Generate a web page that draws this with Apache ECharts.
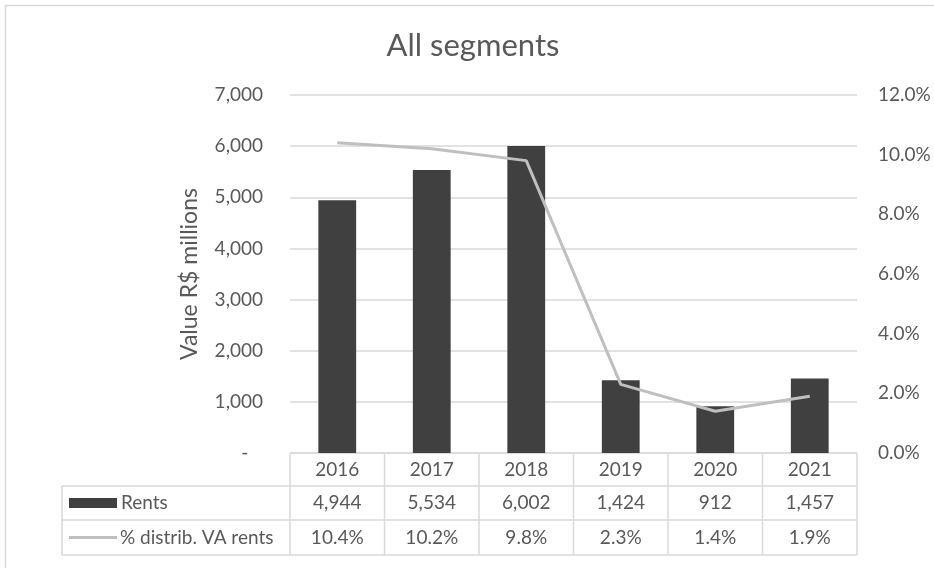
<!DOCTYPE html>
<html><head><meta charset="utf-8">
<script src="https://cdn.jsdelivr.net/npm/echarts@6/dist/echarts.min.js"></script>
<style>html,body{margin:0;padding:0;background:#fff}#c{width:934px;height:568px}</style>
</head><body><div id="c"></div>
<script>
var years = ['2016','2017','2018','2019','2020','2021'];
var rents = [4944, 5534, 6002, 1424, 912, 1457];
var pctVA = [10.4, 10.2, 9.8, 2.3, 1.4, 1.9];
var leftTicks = {min: 0, max: 7000, interval: 1000};
var rightTicks = {min: 0, max: 12, interval: 2};
var rentsName = 'Rents';
var pctName = '% distrib. VA rents';

var FONT = 'Lato';
var TXT = '#595959';
var GRIDC = '#D9D9D9';
var FS = 19;
var chart = echarts.init(document.getElementById('c'), null, {renderer:'canvas'});
function fmtNum(v){ return v.toLocaleString('en-US'); }
chart.setOption({
  animation: false,
  textStyle: {fontFamily: FONT},
  grid: {left: 290, right: 77, top: 95, bottom: 115},
  xAxis: {type: 'category', data: years, axisLine: {show: false}, axisTick: {show: false},
    axisLabel: {show: false}},
  yAxis: [{
    type: 'value', min: leftTicks.min, max: leftTicks.max, interval: leftTicks.interval,
    name: 'Value R$ millions', nameLocation: 'middle', nameGap: 89, nameRotate: 90,
    nameTextStyle: {fontFamily: FONT, fontSize: 23, color: TXT},
    axisLabel: {fontFamily: FONT, fontSize: FS, color: TXT, margin: 27,
      formatter: function(v){ return v === 0 ? '-   ' : fmtNum(v); }},
    splitLine: {lineStyle: {color: GRIDC, width: 1.5}},
    axisLine: {show: false}, axisTick: {show: false}
  },{
    type: 'value', min: rightTicks.min, max: rightTicks.max, interval: rightTicks.interval,
    position: 'right',
    axisLabel: {fontFamily: FONT, fontSize: FS, color: TXT, margin: 21,
      formatter: function(v){ return v.toFixed(1) + '%'; }},
    splitLine: {show: false}, axisLine: {show: false}, axisTick: {show: false}
  }],
  series: [{
    name: rentsName, type: 'bar', data: rents, barWidth: '40%',
    itemStyle: {color: '#404040'}
  },{
    name: pctName, type: 'line', yAxisIndex: 1, data: pctVA, symbol: 'none',
    lineStyle: {color: '#BFBFBF', width: 3}
  }]
});

// Build data table under the axis from the axis' own scale
var g = [];
var x0 = chart.convertToPixel({xAxisIndex: 0}, years[0]);
var x1 = chart.convertToPixel({xAxisIndex: 0}, years[1]);
var cw = x1 - x0;
var left = x0 - cw / 2;
var right = left + cw * years.length;
var yTop = chart.convertToPixel({yAxisIndex: 0}, 0);
var rowH = [33, 34, 35];
var r1 = yTop + rowH[0], r2 = r1 + rowH[1], r3 = r2 + rowH[2];
var tLeft = 62;
var lc = GRIDC;
function hline(xa, xb, y){ g.push({type:'line', shape:{x1:xa, y1:y, x2:xb, y2:y}, style:{stroke:lc, lineWidth:1.5}}); }
function vline(x, ya, yb){ g.push({type:'line', shape:{x1:x, y1:ya, x2:x, y2:yb}, style:{stroke:lc, lineWidth:1.5}}); }
hline(left, right, yTop);
hline(tLeft, right, r1);
hline(tLeft, right, r2);
hline(tLeft, right, r3);
vline(tLeft, r1, r3);
for (var i = 0; i <= years.length; i++) vline(left + cw * i, yTop, r3);
function txt(s, x, y, align, fs){ g.push({type:'text', x:x, y:y, style:{text:s, fill:TXT, font:(fs||FS) + 'px ' + FONT, textAlign:align||'center', textVerticalAlign:'middle'}}); }
for (var j = 0; j < years.length; j++) {
  var cx = chart.convertToPixel({xAxisIndex: 0}, years[j]);
  txt(years[j], cx, (yTop + r1) / 2);
  txt(fmtNum(rents[j]), cx, (r1 + r2) / 2);
  txt(pctVA[j].toFixed(1) + '%', cx, (r2 + r3) / 2);
}
// title
txt('All segments', 473, 46, 'center', 31);
// legend keys
g.push({type:'rect', shape:{x:69, y:(r1+r2)/2 - 5, width:48, height:10}, style:{fill:'#404040'}});
txt(rentsName, 121, (r1 + r2) / 2, 'left');
g.push({type:'line', shape:{x1:69, y1:(r2+r3)/2, x2:117, y2:(r2+r3)/2}, style:{stroke:'#BFBFBF', lineWidth:3}});
txt(pctName, 120, (r2 + r3) / 2, 'left');
// outer chart border
g.push({type:'rect', shape:{x:5.5, y:5.5, width:1000, height:1000}, style:{fill:'none', stroke:GRIDC, lineWidth:1.5}});
chart.setOption({graphic: g});
</script></body></html>
